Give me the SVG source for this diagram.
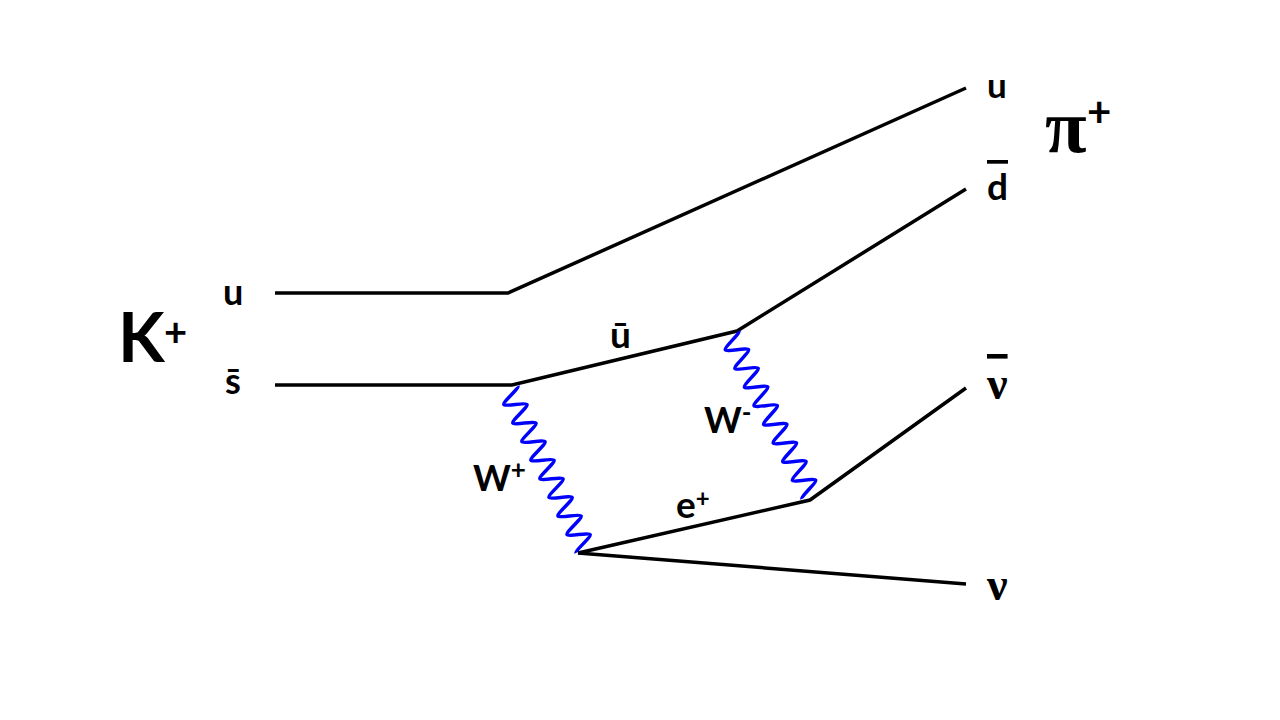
<svg xmlns="http://www.w3.org/2000/svg" width="1280" height="720" viewBox="0 0 1280 720">
<style>
.q{fill:none;stroke:#000;stroke-width:3.5;stroke-linejoin:miter;stroke-linecap:butt}
.w{fill:none;stroke:#0000FF;stroke-width:3.5}
.lb{font-family:Lato,"Liberation Sans",sans-serif;font-weight:bold;fill:#000}
.gr{font-family:"Liberation Serif","Times New Roman",serif;font-weight:bold;fill:#000}
</style>
<rect width="1280" height="720" fill="#fff"/>
<g id="connectors">
<polyline id="u-line" class="q" points="275,293 508,293 966,88"/>
<polyline id="sbar-line" class="q" points="275,385 512,385 737,331 966,189"/>
<polyline id="eplus-line" class="q" points="578,553 810,500 966,388"/>
<polyline id="nu-line" class="q" points="578,553 966,584"/>
<g id="Wplus" transform="translate(508.64,390.54) rotate(64.1)">
<path class="w" d="M0 -10.4 c2.58 0 7.75 20.8 10.33 20.8 s7.75 -20.8 10.33 -20.8 s7.75 20.8 10.33 20.8 s7.75 -20.8 10.33 -20.8 s7.75 20.8 10.33 20.8 s7.75 -20.8 10.33 -20.8 s7.75 20.8 10.33 20.8 s7.75 -20.8 10.33 -20.8 s7.75 20.8 10.33 20.8 s7.75 -20.8 10.33 -20.8 s7.75 20.8 10.33 20.8 s7.75 -20.8 10.33 -20.8 s7.75 20.8 10.33 20.8 s7.75 -20.8 10.33 -20.8 s7.75 20.8 10.33 20.8 s7.75 -20.8 10.33 -20.8 s7.75 20.8 10.33 20.8"/>
</g>
<g id="Wminus" transform="translate(729.75,335.75) rotate(62.8)">
<path class="w" d="M0 -10.4 c2.62 0 7.86 20.8 10.48 20.8 s7.86 -20.8 10.48 -20.8 s7.86 20.8 10.48 20.8 s7.86 -20.8 10.48 -20.8 s7.86 20.8 10.48 20.8 s7.86 -20.8 10.48 -20.8 s7.86 20.8 10.48 20.8 s7.86 -20.8 10.48 -20.8 s7.86 20.8 10.48 20.8 s7.86 -20.8 10.48 -20.8 s7.86 20.8 10.48 20.8 s7.86 -20.8 10.48 -20.8 s7.86 20.8 10.48 20.8 s7.86 -20.8 10.48 -20.8 s7.86 20.8 10.48 20.8 s7.86 -20.8 10.48 -20.8 s7.86 20.8 10.48 20.8"/>
</g>
</g>
<g id="K">
<text class="lb" x="118" y="362" font-size="68">K</text>
<text class="lb" x="164" y="346" font-size="40">+</text>
</g>
<g id="pi">
<text class="gr" x="1045" y="152" font-size="76">π</text>
<text class="lb" x="1087" y="127" font-size="42">+</text>
</g>
<g id="labels">
<text class="lb" x="223" y="305" font-size="36">u</text>
<text class="lb" x="225" y="394" font-size="36">s&#x304;</text>
<text class="lb" x="987" y="98" font-size="35">u</text>
<text class="lb" x="987" y="200" font-size="37" text-decoration="overline" style="text-decoration-thickness:3px">d</text>
<text class="gr" x="987" y="399" font-size="46" text-decoration="overline" style="text-decoration-thickness:3px">ν</text>
<text class="gr" x="987" y="600" font-size="46">ν</text>
<text class="lb" x="610" y="348" font-size="37">&#x16B;</text>
<text class="lb" x="704" y="433" font-size="36">W<tspan font-size="26" dy="-11">-</tspan></text>
<text class="lb" x="473" y="491" font-size="36">W<tspan font-size="26" dy="-12">+</tspan></text>
<text class="lb" x="676" y="518" font-size="37">e<tspan font-size="24" dy="-11">+</tspan></text>
</g>
</svg>
